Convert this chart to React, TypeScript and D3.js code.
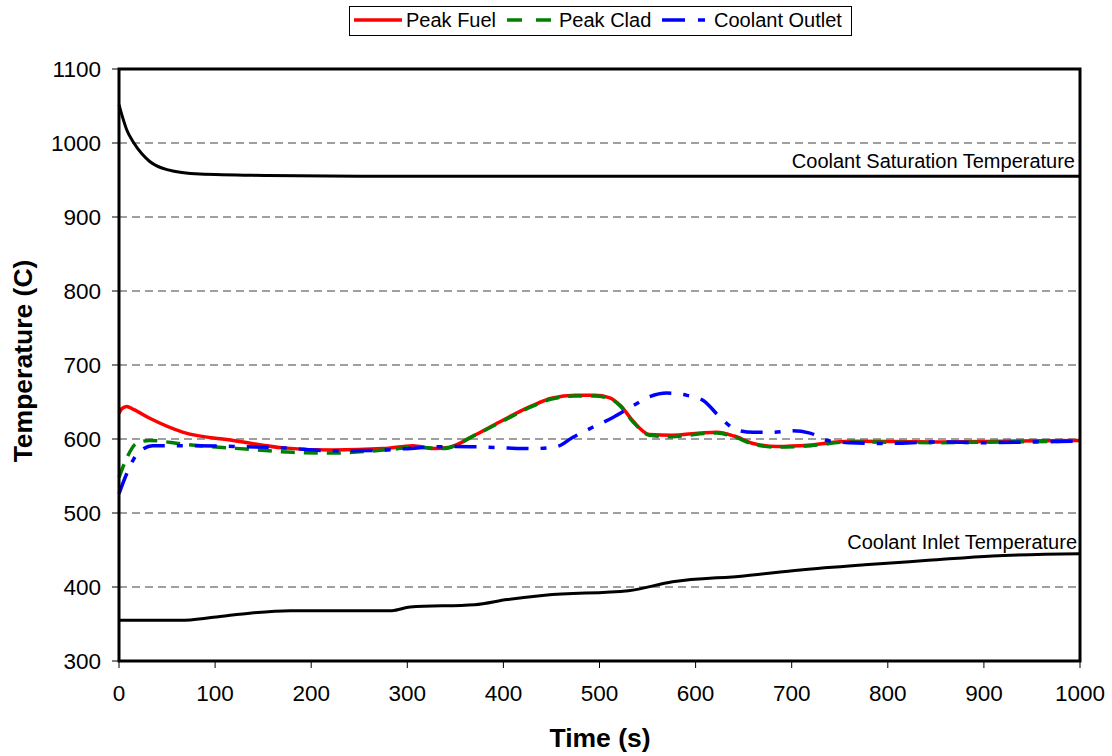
import React, { useEffect, useRef } from 'react';
import * as d3 from 'd3';

// time (s) / temperature (C)
const fuelTime = [0, 3, 8, 15, 32, 67, 119, 171, 223, 275, 306, 327, 344, 370, 396, 430, 450, 475, 495, 510, 522, 535, 552, 575, 605, 622, 640, 660, 685, 720, 760, 850, 920, 1000];
const fuelTemp = [635, 641, 644, 640, 628, 609, 598, 588, 585, 587, 591, 587, 589, 605, 623, 645, 655, 659, 659, 656, 645, 624, 606, 605, 608, 609, 604, 594, 590, 592, 597, 596, 597, 598];

const cladTime = [0, 8, 18, 32, 67, 136, 181, 223, 275, 313, 337, 370, 396, 430, 450, 475, 495, 510, 522, 535, 552, 575, 605, 622, 640, 660, 685, 720, 760, 850, 920, 1000];
const cladTemp = [548, 574, 594, 598, 593, 586, 582, 581, 585, 589, 587, 605, 622, 644, 654, 658, 658, 655, 644, 623, 605, 603, 607, 608, 603, 593, 589, 591, 596, 595, 596, 597];

const outletTime = [0, 8, 18, 35, 67, 119, 171, 223, 275, 310, 350, 400, 430, 456, 472, 490, 514, 535, 552, 570, 591, 608, 625, 643, 660, 680, 700, 719, 737, 760, 800, 850, 900, 950, 1000];
const outletTemp = [526, 553, 578, 591, 591, 590, 588, 584, 585, 588, 590, 588, 587, 590, 602, 614, 629, 645, 657, 662, 659, 652, 630, 612, 609, 609, 611, 608, 598, 595, 594, 596, 595, 596, 597];

const satTime = [0, 3, 8, 15, 24, 32, 50, 84, 154, 250, 400, 600, 800, 1000];
const satTemp = [1052, 1038, 1018, 1001, 985, 975, 964, 958, 956, 955, 955, 955, 955, 955];

const inletTime = [0, 64, 98, 138, 178, 284, 303, 370, 404, 443, 530, 576, 650, 709, 776, 842, 909, 1000];
const inletTemp = [355, 355, 359, 365, 368, 368, 373, 376, 383, 389, 395, 407, 415, 423, 430, 436, 442, 445];

const xTicks = [0, 100, 200, 300, 400, 500, 600, 700, 800, 900, 1000];
const yTicks = [300, 400, 500, 600, 700, 800, 900, 1000, 1100];

const legendNames = ['Peak Fuel', 'Peak Clad', 'Coolant Outlet'];

const zip = (t: number[], v: number[]) => t.map((d, i) => [d, v[i]] as [number, number]);

export default function App() {
  const ref = useRef<SVGSVGElement>(null);

  useEffect(() => {
    document.body.style.margin = '0';
    const svg = d3.select(ref.current);
    svg.selectAll('*').remove();

    const left = 119, top = 69, right = 1080, bottom = 661;
    const x = d3.scaleLinear().domain([0, 1000]).range([left, right]);
    const y = d3.scaleLinear().domain([300, 1100]).range([bottom, top]);
    const font = 'Liberation Sans, Arial, sans-serif';

    svg.append('rect').attr('width', 1112).attr('height', 756).attr('fill', '#fff');

    // gridlines
    svg.append('g').selectAll('line')
      .data(yTicks.filter(d => d > 300 && d < 1100))
      .enter().append('line')
      .attr('x1', left).attr('x2', right)
      .attr('y1', d => y(d)).attr('y2', d => y(d))
      .attr('stroke', '#808080').attr('stroke-width', 1.3)
      .attr('stroke-dasharray', '8,5');

    const line = d3.line<[number, number]>()
      .x(d => x(d[0])).y(d => y(d[1]))
      .curve(d3.curveMonotoneX);

    const draw = (t: number[], v: number[], color: string, dash: string | null, w: number) => {
      svg.append('path').datum(zip(t, v))
        .attr('d', line)
        .attr('fill', 'none')
        .attr('stroke', color)
        .attr('stroke-width', w)
        .attr('stroke-dasharray', dash);
    };

    draw(satTime, satTemp, '#000', null, 3);
    draw(inletTime, inletTemp, '#000', null, 3);
    draw(fuelTime, fuelTemp, '#ff0000', null, 3.5);
    draw(cladTime, cladTemp, '#008000', '14,9', 3.5);
    draw(outletTime, outletTemp, '#0000ff', '22,12,6,12', 3.5);

    // curve labels
    svg.append('text').attr('x', 1075).attr('y', 168)
      .attr('text-anchor', 'end').attr('font-family', font).attr('font-size', 20)
      .text('Coolant Saturation Temperature');
    svg.append('text').attr('x', 1077).attr('y', 549)
      .attr('text-anchor', 'end').attr('font-family', font).attr('font-size', 20)
      .text('Coolant Inlet Temperature');

    // frame
    svg.append('rect')
      .attr('x', left).attr('y', top)
      .attr('width', right - left).attr('height', bottom - top)
      .attr('fill', 'none').attr('stroke', '#000').attr('stroke-width', 3);

    // ticks
    svg.append('g').selectAll('line').data(yTicks).enter().append('line')
      .attr('x1', left - 7).attr('x2', left)
      .attr('y1', d => y(d)).attr('y2', d => y(d))
      .attr('stroke', '#000').attr('stroke-width', 1);
    svg.append('g').selectAll('text').data(yTicks).enter().append('text')
      .attr('x', 101).attr('y', d => y(d) + 8)
      .attr('text-anchor', 'end').attr('font-family', font).attr('font-size', 22.5)
      .text(d => d);

    svg.append('g').selectAll('line').data(xTicks).enter().append('line')
      .attr('x1', d => x(d)).attr('x2', d => x(d))
      .attr('y1', bottom).attr('y2', bottom + 7)
      .attr('stroke', '#000').attr('stroke-width', 1);
    svg.append('g').selectAll('text').data(xTicks).enter().append('text')
      .attr('x', d => x(d)).attr('y', 701)
      .attr('text-anchor', 'middle').attr('font-family', font).attr('font-size', 22.5)
      .text(d => d);

    // axis titles
    svg.append('text')
      .attr('transform', `translate(32,361) rotate(-90)`)
      .attr('text-anchor', 'middle').attr('font-family', font)
      .attr('font-size', 26.5).attr('font-weight', 'bold')
      .text('Temperature (C)');
    svg.append('text')
      .attr('x', 600).attr('y', 747)
      .attr('text-anchor', 'middle').attr('font-family', font)
      .attr('font-size', 26.5).attr('font-weight', 'bold')
      .text('Time (s)');

    // legend
    const lg = svg.append('g');
    lg.append('rect').attr('x', 349.5).attr('y', 6.5).attr('width', 502).attr('height', 29)
      .attr('fill', '#fff').attr('stroke', '#000').attr('stroke-width', 1);
    const legendX = [354, 507, 662];
    const legendColor = ['#ff0000', '#008000', '#0000ff'];
    const legendDash = [null, '15,14', '23,13,7,13'];
    legendNames.forEach((name, i) => {
      lg.append('line')
        .attr('x1', legendX[i]).attr('x2', legendX[i] + 48)
        .attr('y1', 20).attr('y2', 20)
        .attr('stroke', legendColor[i]).attr('stroke-width', 3.5)
        .attr('stroke-dasharray', legendDash[i]);
      lg.append('text')
        .attr('x', legendX[i] + 52).attr('y', 27)
        .attr('font-family', font).attr('font-size', 20)
        .text(name);
    });
  }, []);

  return <svg ref={ref} width={1112} height={756} style={{ display: 'block' }} />;
}
